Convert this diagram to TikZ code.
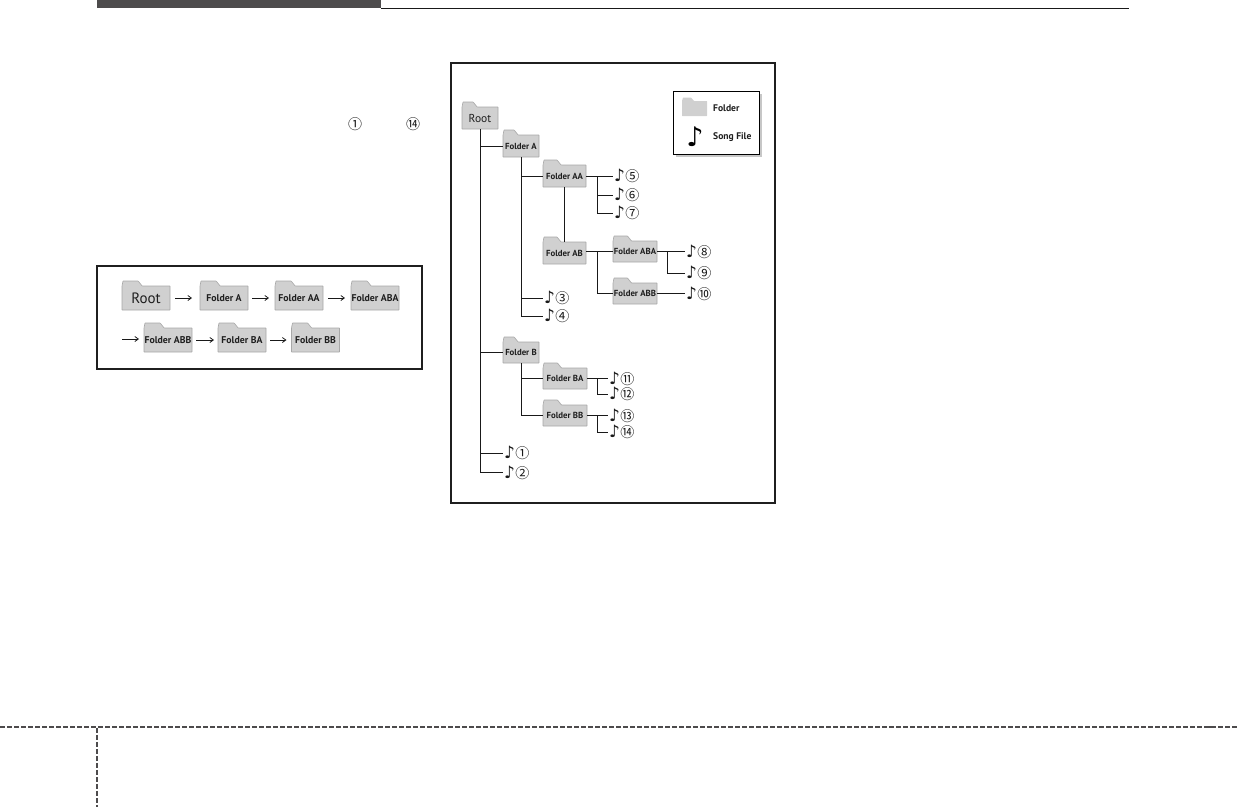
\documentclass[tikz,border=0pt]{standalone}
\usepackage{fontspec}
\setmainfont{PT Sans}
\newfontfamily\notefont{DejaVu Sans}
\newfontfamily\circfont{Noto Sans CJK SC}
\usetikzlibrary{arrows.meta}
\definecolor{barcol}{HTML}{4D4B4C}
\definecolor{foldfill}{HTML}{D0D0D0}
\definecolor{foldedge}{HTML}{A8A8A8}
\tikzset{
  x=1pt,y=-1pt,
  wire/.style={line width=0.8pt,black!90},
  frameline/.style={line width=1.4pt,black!88},
  thinframe/.style={line width=1.1pt,black!88},
  foldbody/.style={inner sep=0pt,outer sep=0pt,text=black!88,align=center},
  foldtab/.style={fill=foldfill,draw=foldedge,line width=0.6pt,rounded corners=0.4pt},
  smalllab/.style={font=\bfseries\fontsize{8.8}{9}\selectfont},
  biglab/.style={font=\bfseries\fontsize{9.8}{10}\selectfont},
  rootlab/.style={font=\fontsize{11.5}{12}\selectfont},
  rootbig/.style={font=\fontsize{15}{16}\selectfont},
  song/.style={inner sep=0pt,outer sep=0pt,anchor=west,text=black!90},
  seqarrow/.style={line width=0.8pt,black!90,-{Straight Barb[length=3.5pt,width=5pt]}},
  dashline/.style={line width=1.6pt,barcol,dash pattern=on 4.7pt off 2.3pt},
  legendlab/.style={inner sep=0pt,anchor=west,font=\bfseries\fontsize{9.6}{10}\selectfont,text=black!88},
  circled/.style={inner sep=0pt,font=\circfont\fontsize{14}{14}\selectfont,text=black!90},
}
% name, cx, cy, w, h, label style, label
\newcommand{\folder}[7]{%
  \pgfmathsetmacro{\tw}{0.42*#4}%
  \node[foldbody,minimum width=#4pt,minimum height=#5pt,#6] (#1) at (#2,#3) {};%
  \path[foldtab] (#1.south west) -- (#1.north west) -- ++(1,-5) -- ++(\tw-5,0) -- ++(4,5) -- (#1.north east) -- (#1.south east) -- cycle;%
  \node[foldbody,minimum width=#4pt,minimum height=#5pt,#6] at (#1.center) {#7};%
}
% name, x of wire end, y, circled digit
\newcommand{\songnode}[4]{%
  \node[song] (#1) at (#2,#3) {\hspace{1pt}\notefont\fontsize{17}{17}\selectfont ♪\hspace{0.5pt}\circfont\fontsize{14}{14}\selectfont #4};%
}
\begin{document}
\begin{tikzpicture}
\useasboundingbox (0,0) rectangle (1237,807);
\fill[white] (0,0) rectangle (1237,807);

% header
\fill[barcol] (97,0) rectangle (381,8.4);
\draw[line width=0.8pt,black!90] (381,8.2) -- (1129,8.2);

% footer
\draw[dashline] (0,727) -- (1237,727);
\draw[dashline] (97,727.8) -- (97,807);
\draw[line width=1.6pt,barcol] (1204,727) -- (1213,727);

% stray marks in text column
\node[circled] (cOne) at (355,124) {①};
\node[circled] (cFourteen) at (413,124) {⑭};

% sequence box
\node[draw,thinframe,inner sep=0pt,minimum width=325pt,minimum height=103pt,fill=none] (seqbox) at (259.5,317.5) {};
\folder{sRoot}{146}{298}{48}{24}{rootbig}{Root}
\folder{sA}{224}{298}{48}{24}{biglab}{Folder A}
\folder{sAA}{299}{298}{48}{24}{biglab}{Folder AA}
\folder{sABA}{375}{298}{48}{24}{biglab}{Folder ABA}
\folder{sABB}{168}{340}{48}{24}{biglab}{Folder ABB}
\folder{sBA}{242}{340}{48}{24}{biglab}{Folder BA}
\folder{sBB}{315.5}{340}{48}{24}{biglab}{Folder BB}
\coordinate (wrapStart) at (122,339);
\draw[seqarrow,shorten <=5pt,shorten >=8pt] (sRoot.east) -- (sA.west);
\draw[seqarrow,shorten <=4pt,shorten >=6pt] (sA.east) -- (sAA.west);
\draw[seqarrow,shorten <=5pt,shorten >=6pt] (sAA.east) -- (sABA.west);
\draw[seqarrow,shorten >=5pt] (wrapStart) -- (wrapStart-|sABB.west);
\draw[seqarrow,shorten <=4pt,shorten >=4pt] (sABB.east) -- (sBA.west);
\draw[seqarrow,shorten <=4pt,shorten >=5pt] (sBA.east) -- (sBB.west);

% tree frame
\node[draw,frameline,inner sep=0pt,minimum width=324pt,minimum height=440pt] (treebox) at (613,283) {};

% legend
\fill[black!22] (676,94) rectangle (762,157);
\node[draw=black,line width=0.9pt,fill=white,inner sep=0pt,minimum width=86pt,minimum height=63pt] (legend) at (716,122.5) {};
\node[foldbody,minimum width=25pt,minimum height=15pt] (legFolder) at (694.5,108.5) {};
\path[foldtab,draw=none] (legFolder.south west) -- (legFolder.north west) -- ++(1,-3.5) -- ++(8,0) -- ++(3,3.5) -- (legFolder.north east) -- (legFolder.south east) -- cycle;
\node[legendlab] (legFolderLab) at (713,108) {Folder};
\node[inner sep=0pt,font=\notefont\fontsize{27}{27}\selectfont] (legNote) at (695,137) {♪};
\node[legendlab] (legSongLab) at (713,137) {Song File};

% folders
\folder{Root}{480}{118}{36}{22}{rootlab}{Root}
\folder{FA}{521}{146}{36}{22}{smalllab}{Folder A}
\folder{FAA}{564.5}{176}{43}{22}{smalllab}{Folder AA}
\folder{FAB}{564.5}{253}{43}{22}{smalllab}{Folder AB}
\folder{FABA}{635}{251.5}{44}{21}{smalllab}{Folder ABA}
\folder{FABB}{635}{293.5}{44}{21}{smalllab}{Folder ABB}
\folder{FB}{521}{352.5}{36}{21}{smalllab}{Folder B}
\folder{FBA}{565}{378.5}{44}{21}{smalllab}{Folder BA}
\folder{FBB}{565}{415.5}{44}{21}{smalllab}{Folder BB}

% songs
\songnode{s1}{503}{453}{①}
\songnode{s2}{503}{472.5}{②}
\songnode{s3}{543}{298}{③}
\songnode{s4}{543}{316}{④}
\songnode{s5}{613}{176}{⑤}
\songnode{s6}{613}{195}{⑥}
\songnode{s7}{613}{213}{⑦}
\songnode{s8}{685}{251.5}{⑧}
\songnode{s9}{685}{273}{⑨}
\songnode{s10}{685}{293.5}{⑩}
\songnode{s11}{608}{378.5}{⑪}
\songnode{s12}{608}{394}{⑫}
\songnode{s13}{608}{415.5}{⑬}
\songnode{s14}{608}{432}{⑭}

% connectors
\draw[wire] (Root.south) -- (Root.south|-s2.west) -- (s2.west);
\draw[wire] (Root.south|-FA.west) -- (FA.west);
\draw[wire] (Root.south|-FB.west) -- (FB.west);
\draw[wire] (Root.south|-s1.west) -- (s1.west);
\draw[wire] (FA.south) -- (FA.south|-s4.west) -- (s4.west);
\draw[wire] (FA.south|-FAA.west) -- (FAA.west);
\draw[wire] (FA.south|-s3.west) -- (s3.west);
\draw[wire] (FAA.south) -- (FAB.north);
\draw[wire] (FAA.east) -- (s5.west);
\coordinate (aaTrunk) at (597,176);
\draw[wire] (aaTrunk) -- (aaTrunk|-s7.west) -- (s7.west);
\draw[wire] (aaTrunk|-s6.west) -- (s6.west);
\draw[wire] (FABA.west-|FAB.east) -- (FABA.west);
\coordinate (abTrunk) at (597,251.5);
\draw[wire] (abTrunk) -- (abTrunk|-FABB.west) -- (FABB.west);
\draw[wire] (FABA.east) -- (s8.west);
\coordinate (abaTrunk) at (667,251.5);
\draw[wire] (abaTrunk) -- (abaTrunk|-s9.west) -- (s9.west);
\draw[wire] (FABB.east) -- (s10.west);
\draw[wire] (FB.south) -- (FB.south|-FBB.west) -- (FBB.west);
\draw[wire] (FB.south|-FBA.west) -- (FBA.west);
\draw[wire] (FBA.east) -- (s11.west);
\coordinate (baTrunk) at (597,378.5);
\draw[wire] (baTrunk) -- (baTrunk|-s12.west) -- (s12.west);
\draw[wire] (FBB.east) -- (s13.west);
\coordinate (bbTrunk) at (597,415.5);
\draw[wire] (bbTrunk) -- (bbTrunk|-s14.west) -- (s14.west);
\end{tikzpicture}
\end{document}
